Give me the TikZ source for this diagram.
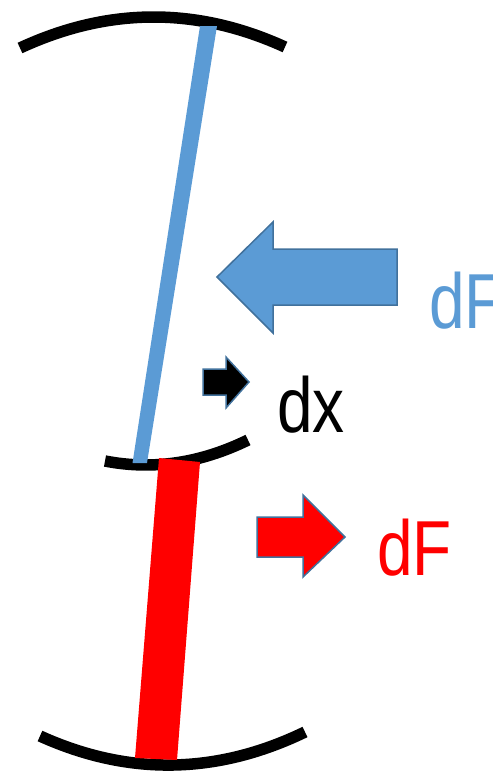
\documentclass[tikz,border=0pt]{standalone}
\usepackage{fontspec}
\setmainfont{Liberation Sans}
\definecolor{skyblue}{HTML}{5B9BD5}
\definecolor{edgeblue}{HTML}{41719C}
\definecolor{pure red}{HTML}{FF0000}
\begin{document}
\begin{tikzpicture}[x=1pt,y=-1pt,
  arc line/.style={line width=11.5pt,black},
  block arrow/.style={draw=edgeblue,line width=1.5pt,line join=miter},
  label text/.style={inner sep=0pt,anchor=base west,font=\fontsize{78}{80}\selectfont}]
\useasboundingbox (0,0) rectangle (493,772);
% arcs
\draw[arc line] (20,48) .. controls (108.3,7) and (196.7,6.7) .. (285,47);
\draw[arc line] (105,461) .. controls (152.7,470.3) and (200.3,463.3) .. (248,440);
\draw[arc line] (40,736) .. controls (128.3,776) and (216.7,774.7) .. (305,732);
% blue strut
\fill[skyblue] (200,26) -- (217,26) -- (147,463) -- (132.5,463) -- cycle;
% red strut
\fill[pure red] (159,458) -- (200,462) -- (177,760) -- (135,758) -- cycle;
% blue arrow (left)
\draw[block arrow,fill=skyblue] (217,277) -- (273,222) -- (273,249) -- (397,249) -- (397,305) -- (273,305) -- (273,333) -- cycle;
% black arrow
\draw[block arrow,fill=black] (203,369) -- (226,369) -- (226,357) -- (249,382) -- (226,408) -- (226,395) -- (203,395) -- cycle;
% red arrow
\draw[block arrow,fill=pure red] (257,517) -- (303,517) -- (303,495) -- (345,537) -- (303,577) -- (303,557) -- (257,557) -- cycle;
% labels
\node[label text,text=skyblue] (dFblue) at (429,328) {\scalebox{0.82}[1]{dF}};
\node[label text,text=black] (dx) at (277,432) {\scalebox{0.82}[1]{dx}};
\node[label text,text=pure red] (dFred) at (377,575) {\scalebox{0.82}[1]{dF}};
\end{tikzpicture}
\end{document}
